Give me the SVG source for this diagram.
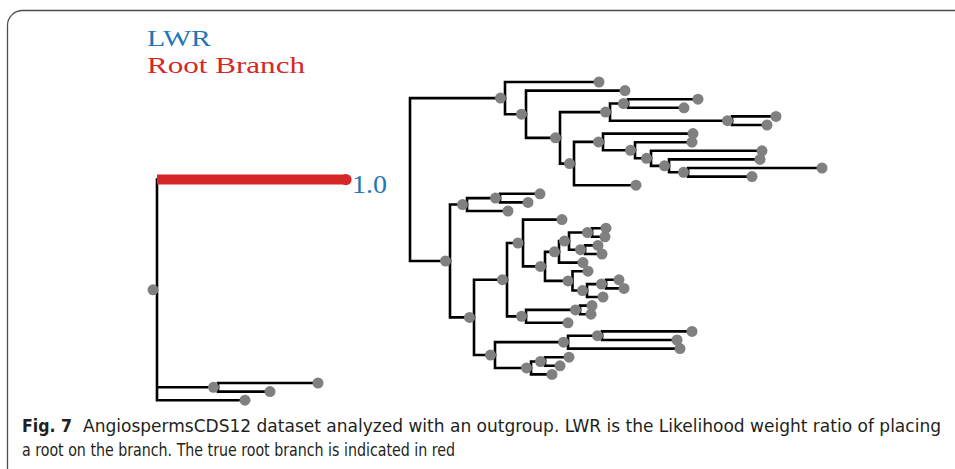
<svg xmlns="http://www.w3.org/2000/svg" width="955" height="469" viewBox="0 0 955 469">
<style>
.br{fill:none;stroke:#000;stroke-width:2.6;stroke-linecap:square}
.nd{fill:#808080}
.lab{font-family:"Liberation Serif","DejaVu Serif",serif}
.cap{font-family:"Liberation Sans Narrow","DejaVu Sans Condensed","Liberation Sans",sans-serif;font-size:18px;fill:#231f20}
</style>
<rect x="7.5" y="10.5" width="965" height="480" rx="15" fill="none" stroke="#4d4d4d" stroke-width="1.3"/>
<g id="labels" class="lab">
<text x="147" y="45.5" font-size="24" fill="#1f77b4" textLength="64" lengthAdjust="spacingAndGlyphs">LWR</text>
<text x="147" y="72.5" font-size="24" fill="#d62728" textLength="158" lengthAdjust="spacingAndGlyphs">Root Branch</text>
<text x="352" y="193" font-size="26" fill="#1f77b4" textLength="35" lengthAdjust="spacingAndGlyphs">1.0</text>
</g>
<g id="connectors" class="br">
<path d="M157 179.55V400.2M157 387.3H218M157 400.2H245"/>
<path d="M218 383V391.6M218 383H318M218 391.6H270"/>
<path d="M410 98.1V261M410 98.1H505M410 261H450"/>
<path d="M505 82V114.2M505 82H599M505 114.2H526"/>
<path d="M526 90.6V137.85M526 90.6H625M526 137.85H560"/>
<path d="M560 112.1V163.6M560 112.1H610M560 163.6H574"/>
<path d="M610 103.5V120.7M610 103.5H628M610 120.7H732"/>
<path d="M628 99.2V107.8M628 99.2H698M628 107.8H684"/>
<path d="M732 116.4V125M732 116.4H776M732 125H767"/>
<path d="M574 141.9V185.2M574 141.9H603M574 185.2H636"/>
<path d="M603 133.6V150.25M603 133.6H693M603 150.25H635"/>
<path d="M635 142.2V158.3M635 142.2H692M635 158.3H651"/>
<path d="M651 150.8V165.85M651 150.8H762M651 165.85H669"/>
<path d="M669 159.4V172.3M669 159.4H760M669 172.3H688"/>
<path d="M688 168V176.6M688 168H822M688 176.6H752"/>
<path d="M450 204.55V317.4M450 204.55H467M450 317.4H474"/>
<path d="M467 198.1V211M467 198.1H500M467 211H508"/>
<path d="M500 193.8V202.4M500 193.8H540M500 202.4H528"/>
<path d="M474 279.7V355.05M474 279.7H507M474 355.05H495"/>
<path d="M507 243V316.35M507 243H523M507 316.35H526"/>
<path d="M523 219.6V266.4M523 219.6H562M523 266.4H545"/>
<path d="M545 251.85V280.9M545 251.85H559M545 280.9H572.5"/>
<path d="M559 241.1V262.6M559 241.1H569M559 262.6H583"/>
<path d="M569 232.5V249.7M569 232.5H592M569 249.7H585"/>
<path d="M592 228.2V236.8M592 228.2H606M592 236.8H605"/>
<path d="M585 245.4V254M585 245.4H598M585 254H602"/>
<path d="M572.5 271.2V290.55M572.5 271.2H588M572.5 290.55H587"/>
<path d="M587 284.1V297M587 284.1H606M587 297H603"/>
<path d="M606 279.8V288.4M606 279.8H619M606 288.4H624"/>
<path d="M526 309.9V322.8M526 309.9H580M526 322.8H568"/>
<path d="M580 305.6V314.2M580 305.6H592M580 314.2H591"/>
<path d="M495 342.15V367.95M495 342.15H568M495 367.95H531"/>
<path d="M568 335.7V348.6M568 335.7H602M568 348.6H680"/>
<path d="M602 331.4V340M602 331.4H692M602 340H677"/>
<path d="M531 361.5V374.4M531 361.5H545M531 374.4H552"/>
<path d="M545 357.2V365.8M545 357.2H569M545 365.8H560"/>
<path d="M157 179.55H345" stroke="#d62728" stroke-width="10" stroke-linecap="butt"/>
</g>
<g id="n-root-red"><circle cx="346" cy="179.55" r="5.6" fill="#d62728"/></g>
<g id="n-L"><circle class="nd" cx="153" cy="289.85" r="5.5"/></g>
<g id="n-LN"><circle class="nd" cx="213.5" cy="387.3" r="5.5"/></g>
<g id="n-A"><circle class="nd" cx="500.5" cy="98.1" r="5.5"/></g>
<g id="n-A2"><circle class="nd" cx="521.5" cy="114.2" r="5.5"/></g>
<g id="n-A3"><circle class="nd" cx="555.5" cy="137.85" r="5.5"/></g>
<g id="n-A4"><circle class="nd" cx="605.5" cy="112.1" r="5.5"/></g>
<g id="n-A6"><circle class="nd" cx="623.5" cy="103.5" r="5.5"/></g>
<g id="n-A7"><circle class="nd" cx="727.5" cy="120.7" r="5.5"/></g>
<g id="n-A5"><circle class="nd" cx="569.5" cy="163.6" r="5.5"/></g>
<g id="n-A8"><circle class="nd" cx="598.5" cy="141.9" r="5.5"/></g>
<g id="n-A9"><circle class="nd" cx="630.5" cy="150.25" r="5.5"/></g>
<g id="n-A10"><circle class="nd" cx="646.5" cy="158.3" r="5.5"/></g>
<g id="n-A11"><circle class="nd" cx="664.5" cy="165.85" r="5.5"/></g>
<g id="n-A12"><circle class="nd" cx="683.5" cy="172.3" r="5.5"/></g>
<g id="n-B"><circle class="nd" cx="445.5" cy="261" r="5.5"/></g>
<g id="n-B1"><circle class="nd" cx="462.5" cy="204.55" r="5.5"/></g>
<g id="n-B3"><circle class="nd" cx="495.5" cy="198.1" r="5.5"/></g>
<g id="n-B2"><circle class="nd" cx="469.5" cy="317.4" r="5.5"/></g>
<g id="n-B4"><circle class="nd" cx="502.5" cy="279.7" r="5.5"/></g>
<g id="n-B6"><circle class="nd" cx="518" cy="243" r="5.5"/></g>
<g id="n-B8"><circle class="nd" cx="540.5" cy="266.4" r="5.5"/></g>
<g id="n-B9"><circle class="nd" cx="554.5" cy="251.85" r="5.5"/></g>
<g id="n-B11"><circle class="nd" cx="564.5" cy="241.1" r="5.5"/></g>
<g id="n-B12"><circle class="nd" cx="587.5" cy="232.5" r="5.5"/></g>
<g id="n-B13"><circle class="nd" cx="580.5" cy="249.7" r="5.5"/></g>
<g id="n-B10"><circle class="nd" cx="568" cy="280.9" r="5.5"/></g>
<g id="n-B14"><circle class="nd" cx="582.5" cy="290.55" r="5.5"/></g>
<g id="n-B15"><circle class="nd" cx="601.5" cy="284.1" r="5.5"/></g>
<g id="n-B7"><circle class="nd" cx="521.5" cy="316.35" r="5.5"/></g>
<g id="n-B16"><circle class="nd" cx="575.5" cy="309.9" r="5.5"/></g>
<g id="n-B5"><circle class="nd" cx="490.5" cy="355.05" r="5.5"/></g>
<g id="n-B17"><circle class="nd" cx="563.5" cy="342.15" r="5.5"/></g>
<g id="n-B19"><circle class="nd" cx="597.5" cy="335.7" r="5.5"/></g>
<g id="n-B18"><circle class="nd" cx="526.5" cy="367.95" r="5.5"/></g>
<g id="n-B20"><circle class="nd" cx="540.5" cy="361.5" r="5.5"/></g>
<g id="leaf0"><circle class="nd" cx="599" cy="82" r="5.5"/></g>
<g id="leaf1"><circle class="nd" cx="625" cy="90.6" r="5.5"/></g>
<g id="leaf2"><circle class="nd" cx="698" cy="99.2" r="5.5"/></g>
<g id="leaf3"><circle class="nd" cx="684" cy="107.8" r="5.5"/></g>
<g id="leaf4"><circle class="nd" cx="776" cy="116.4" r="5.5"/></g>
<g id="leaf5"><circle class="nd" cx="767" cy="125" r="5.5"/></g>
<g id="leaf6"><circle class="nd" cx="693" cy="133.6" r="5.5"/></g>
<g id="leaf7"><circle class="nd" cx="692" cy="142.2" r="5.5"/></g>
<g id="leaf8"><circle class="nd" cx="762" cy="150.8" r="5.5"/></g>
<g id="leaf9"><circle class="nd" cx="760" cy="159.4" r="5.5"/></g>
<g id="leaf10"><circle class="nd" cx="822" cy="168" r="5.5"/></g>
<g id="leaf11"><circle class="nd" cx="752" cy="176.6" r="5.5"/></g>
<g id="leaf12"><circle class="nd" cx="636" cy="185.2" r="5.5"/></g>
<g id="leaf13"><circle class="nd" cx="540" cy="193.8" r="5.5"/></g>
<g id="leaf14"><circle class="nd" cx="528" cy="202.4" r="5.5"/></g>
<g id="leaf15"><circle class="nd" cx="508" cy="211" r="5.5"/></g>
<g id="leaf16"><circle class="nd" cx="562" cy="219.6" r="5.5"/></g>
<g id="leaf17"><circle class="nd" cx="606" cy="228.2" r="5.5"/></g>
<g id="leaf18"><circle class="nd" cx="605" cy="236.8" r="5.5"/></g>
<g id="leaf19"><circle class="nd" cx="598" cy="245.4" r="5.5"/></g>
<g id="leaf20"><circle class="nd" cx="602" cy="254" r="5.5"/></g>
<g id="leaf21"><circle class="nd" cx="583" cy="262.6" r="5.5"/></g>
<g id="leaf22"><circle class="nd" cx="588" cy="271.2" r="5.5"/></g>
<g id="leaf23"><circle class="nd" cx="619" cy="279.8" r="5.5"/></g>
<g id="leaf24"><circle class="nd" cx="624" cy="288.4" r="5.5"/></g>
<g id="leaf25"><circle class="nd" cx="603" cy="297" r="5.5"/></g>
<g id="leaf26"><circle class="nd" cx="592" cy="305.6" r="5.5"/></g>
<g id="leaf27"><circle class="nd" cx="591" cy="314.2" r="5.5"/></g>
<g id="leaf28"><circle class="nd" cx="568" cy="322.8" r="5.5"/></g>
<g id="leaf29"><circle class="nd" cx="692" cy="331.4" r="5.5"/></g>
<g id="leaf30"><circle class="nd" cx="677" cy="340" r="5.5"/></g>
<g id="leaf31"><circle class="nd" cx="680" cy="348.6" r="5.5"/></g>
<g id="leaf32"><circle class="nd" cx="569" cy="357.2" r="5.5"/></g>
<g id="leaf33"><circle class="nd" cx="560" cy="365.8" r="5.5"/></g>
<g id="leaf34"><circle class="nd" cx="552" cy="374.4" r="5.5"/></g>
<g id="leaf35"><circle class="nd" cx="318" cy="383" r="5.5"/></g>
<g id="leaf36"><circle class="nd" cx="270" cy="391.6" r="5.5"/></g>
<g id="leaf37"><circle class="nd" cx="245" cy="400.2" r="5.5"/></g>
<g id="caption" class="cap">
<text x="22" y="432"><tspan font-weight="bold" textLength="50" lengthAdjust="spacingAndGlyphs">Fig. 7</tspan></text>
<text x="83" y="432" textLength="858" lengthAdjust="spacingAndGlyphs">AngiospermsCDS12 dataset analyzed with an outgroup. LWR is the Likelihood weight ratio of placing</text>
<text x="22" y="456" textLength="433" lengthAdjust="spacingAndGlyphs">a root on the branch. The true root branch is indicated in red</text>
</g>
</svg>
